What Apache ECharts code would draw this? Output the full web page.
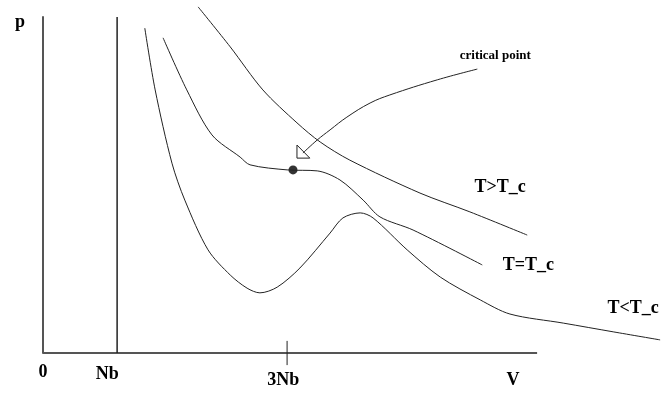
<!DOCTYPE html>
<html>
<head>
<meta charset="utf-8">
<script src="https://cdn.jsdelivr.net/npm/echarts@6/dist/echarts.min.js"></script>
<style>
html,body{margin:0;padding:0;background:#fff}
#chart{width:671px;height:396px}
</style>
</head>
<body>
<div id="chart"></div>
<script>
// van der Waals isotherms, V and p in sketch units (drawn V axis 0..10, p axis 0..10)
var curveNames = ['T>T_c', 'T=T_c', 'T<T_c'];
var hotCurve = [[3.14,10.30],[3.79,9.11],[4.45,7.83],[5.14,6.85],[5.61,6.28],[6.21,5.74],[7.63,4.76],[8.64,4.20],[9.80,3.51]];
var critCurve = [[2.43,9.38],[2.91,7.83],[3.42,6.49],[3.99,5.83],[4.19,5.60],[4.94,5.45],[5.55,5.42],[6.01,5.15],[6.48,4.55],[6.82,4.05],[7.49,3.66],[8.89,2.62]];
var coldCurve = [[2.06,9.67],[2.27,7.83],[2.61,5.65],[2.87,4.55],[3.34,3.07],[3.79,2.32],[4.13,1.93],[4.39,1.79],[4.74,1.96],[5.20,2.53],[5.81,3.57],[6.07,4.02],[6.42,4.17],[6.68,4.02],[7.37,3.07],[8.04,2.26],[8.85,1.58],[9.45,1.16],[10.53,0.89],[11.54,0.63],[12.49,0.39]];
var critPoint = [[5.06,5.45]];
// arrow: from the tip out to the label
var arrowLine = [[5.26,5.95],[5.55,6.34],[5.81,6.64],[6.15,7.02],[6.62,7.44],[7.02,7.68],[7.98,8.13],[8.79,8.45]];
var arrowHead = [[5.14,6.19],[5.14,5.80],[5.40,5.80],[5.14,6.19]];
var vAxisLine = [[0,0],[10,0]];
var nbLine = [[1.5,0],[1.5,10]];
var tick3Nb = [[4.94,-0.36],[4.94,0.36]];
var xTickValues = [0, 1.3, 4.86, 9.51];
var xTickLabels = ['0', 'Nb', '3Nb', 'V'];
var yTickValues = [9.84];
var yTickLabels = ['p'];

var serif = 'Liberation Serif';
var ink = '#222';

function curve(name, data, off) {
    return {
        name: name,
        type: 'line',
        data: data,
        smooth: 0.3,
        showSymbol: false,
        clip: false,
        lineStyle: {color: ink, width: 1},
        endLabel: {
            show: true,
            formatter: name,
            align: 'center',
            verticalAlign: 'middle',
            distance: 0,
            offset: off,
            color: '#000',
            fontFamily: serif,
            fontWeight: 'bold',
            fontSize: 18
        }
    };
}

function plain(data, width, color) {
    return {
        type: 'line', data: data, showSymbol: false, clip: false,
        lineStyle: {color: color || ink, width: width}
    };
}

var myChart = echarts.init(document.getElementById('chart'));
// the grid runs to the right edge, past the drawn V axis, so the T<T_c tail is not cut off
var option = {
    animation: false,
    grid: {left: 43, top: 17, right: 0, height: 336},
    xAxis: {
        type: 'value',
        min: 0,
        max: 12.71,
        splitLine: {show: false},
        axisTick: {show: false},
        axisLine: {show: false},
        axisLabel: {
            customValues: xTickValues,
            margin: 10,
            formatter: function (v) {
                var i = xTickValues.indexOf(v);
                return '{s' + i + '|' + xTickLabels[i] + '}';
            },
            rich: {
                s0: {padding: [0, 0, 0, 0]},
                s1: {padding: [2, 0, 0, 0]},
                s2: {padding: [8, 0, 0, 0]},
                s3: {padding: [8, 0, 0, 0]}
            },
            color: '#000',
            fontFamily: serif,
            fontWeight: 'bold',
            fontSize: 18
        }
    },
    yAxis: {
        type: 'value',
        min: 0,
        max: 10,
        splitLine: {show: false},
        axisTick: {show: false},
        axisLine: {lineStyle: {color: '#555', width: 2}},
        axisLabel: {
            customValues: yTickValues,
            margin: 18,
            formatter: function (v) { return yTickLabels[yTickValues.indexOf(v)]; },
            color: '#000',
            fontFamily: serif,
            fontWeight: 'bold',
            fontSize: 18
        }
    },
    series: [
        plain(vAxisLine, 2, '#555'),
        curve(curveNames[0], hotCurve, [-27, -48]),
        curve(curveNames[1], critCurve, [46, 0]),
        curve(curveNames[2], coldCurve, [-27, -32]),
        plain(nbLine, 1.5),
        plain(tick3Nb, 1),
        {
            type: 'line', data: arrowLine, smooth: 0.4, showSymbol: false, clip: false,
            lineStyle: {color: ink, width: 1},
            endLabel: {
                show: true, formatter: 'critical point',
                align: 'center', verticalAlign: 'middle', distance: 0, offset: [18, -13],
                color: '#000', fontFamily: serif, fontWeight: 'bold', fontSize: 13
            }
        },
        plain(arrowHead, 1),
        {
            type: 'scatter', data: critPoint, symbolSize: 9,
            itemStyle: {color: '#000'}
        }
    ]
};
myChart.setOption(option);
</script>
</body>
</html>
